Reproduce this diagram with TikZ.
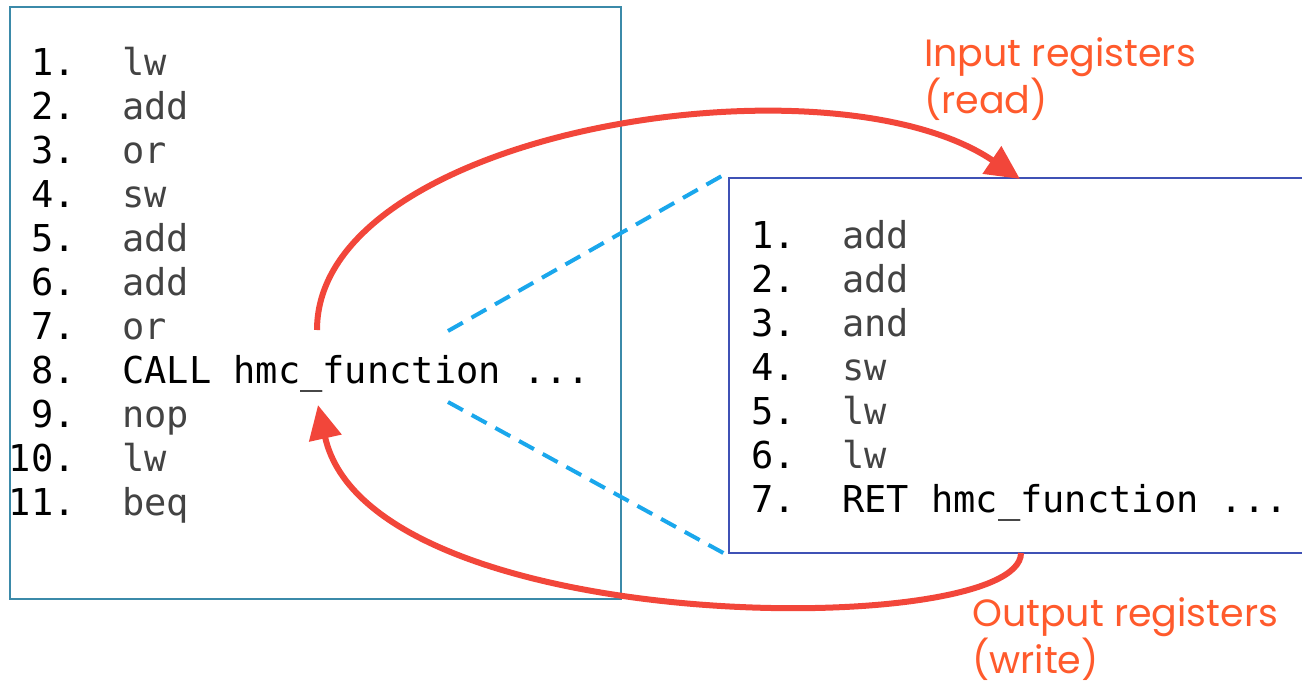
\documentclass[tikz,border=0pt]{standalone}
\usepackage{fontspec}
\setmonofont{DejaVu Sans Mono}
\newfontfamily\lblfont{Poppins}
\usetikzlibrary{arrows.meta}
\definecolor{leftframe}{HTML}{3B8AA9}
\definecolor{rightframe}{HTML}{3F51B5}
\definecolor{instr}{HTML}{434343}
\definecolor{flow}{HTML}{F2463A}
\definecolor{zoomline}{HTML}{1AA7EC}
\definecolor{lbl}{HTML}{FF5A2C}
\tikzset{
  num/.style={anchor=base east, inner sep=0pt, font=\ttfamily\fontsize{37}{37}\selectfont, text=black},
  ins/.style={anchor=base west, inner sep=0pt, font=\ttfamily\fontsize{37}{37}\selectfont, text=instr},
  call/.style={ins, text=black},
  frameL/.style={draw=leftframe, line width=2pt},
  frameR/.style={draw=rightframe, line width=2pt},
  flowarrow/.style={draw=flow, line width=6pt, -{Triangle[length=34pt,width=32pt]}},
  zoom/.style={draw=zoomline, line width=4pt, dash pattern=on 17pt off 10pt},
  regs/.style={anchor=base west, inner sep=0pt, align=left, font=\lblfont\fontsize{38}{42}\selectfont, text=lbl},
}
\begin{document}
\begin{tikzpicture}[x=1pt,y=-1pt]
\useasboundingbox (0,0) rectangle (1302,686);
% caller program
\node[frameL, minimum width=611pt, minimum height=592pt, anchor=north west, inner sep=0pt] (caller) at (9,6) {};
\foreach \n/\t in {1/lw,2/add,3/or,4/sw,5/add,6/add,7/or,9/nop,10/lw,11/beq}{
  \node[num] (cn\n) at (76,{75+44*(\n-1)}) {\n.};
  \node[ins] (ci\n) at (122,{75+44*(\n-1)}) {\t};
}
\node[num] (cn8) at (76,383) {8.};
\node[call] (callsite) at (122,383) {CALL hmc\_function ...};
% function body, open towards the right
\draw[frameR] (1306,178) coordinate (rtr) -- (729,178) coordinate (rtl) -- (729,553) coordinate (rbl) -- (1306,553) coordinate (rbr);
\foreach \t [count=\i] in {add,add,and,sw,lw,lw}{
  \node[num] (fn\i) at (796,{248+44*(\i-1)}) {\i.};
  \node[ins] (fi\i) at (842,{248+44*(\i-1)}) {\t};
}
\node[num] (fn7) at (796,512) {7.};
\node[call] (retsite) at (842,512) {RET hmc\_function ...};
% zoom lines
\coordinate (zs1) at (448,331);
\coordinate (zs2) at (448,402);
\coordinate (ze1) at (727,173);
\coordinate (ze2) at (727,555);
\draw[zoom] (zs1) -- (ze1);
\draw[zoom] (zs2) -- (ze2);
% register flows
\coordinate (outA) at (317,330);
\coordinate (inA) at (1020,179);
\coordinate (outB) at (1021,553);
\coordinate (inB) at (318,405);
\draw[flowarrow] (outA) .. controls (317,130) and (830,50) .. (inA);
\draw[flowarrow] (outB) .. controls (1021,640) and (370,640) .. (inB);
% labels
\node[regs] (readlbl) at (924,113) {Input registers\\(read)};
\node[regs] (writelbl) at (972,673) {Output registers\\(write)};
\end{tikzpicture}
\end{document}
